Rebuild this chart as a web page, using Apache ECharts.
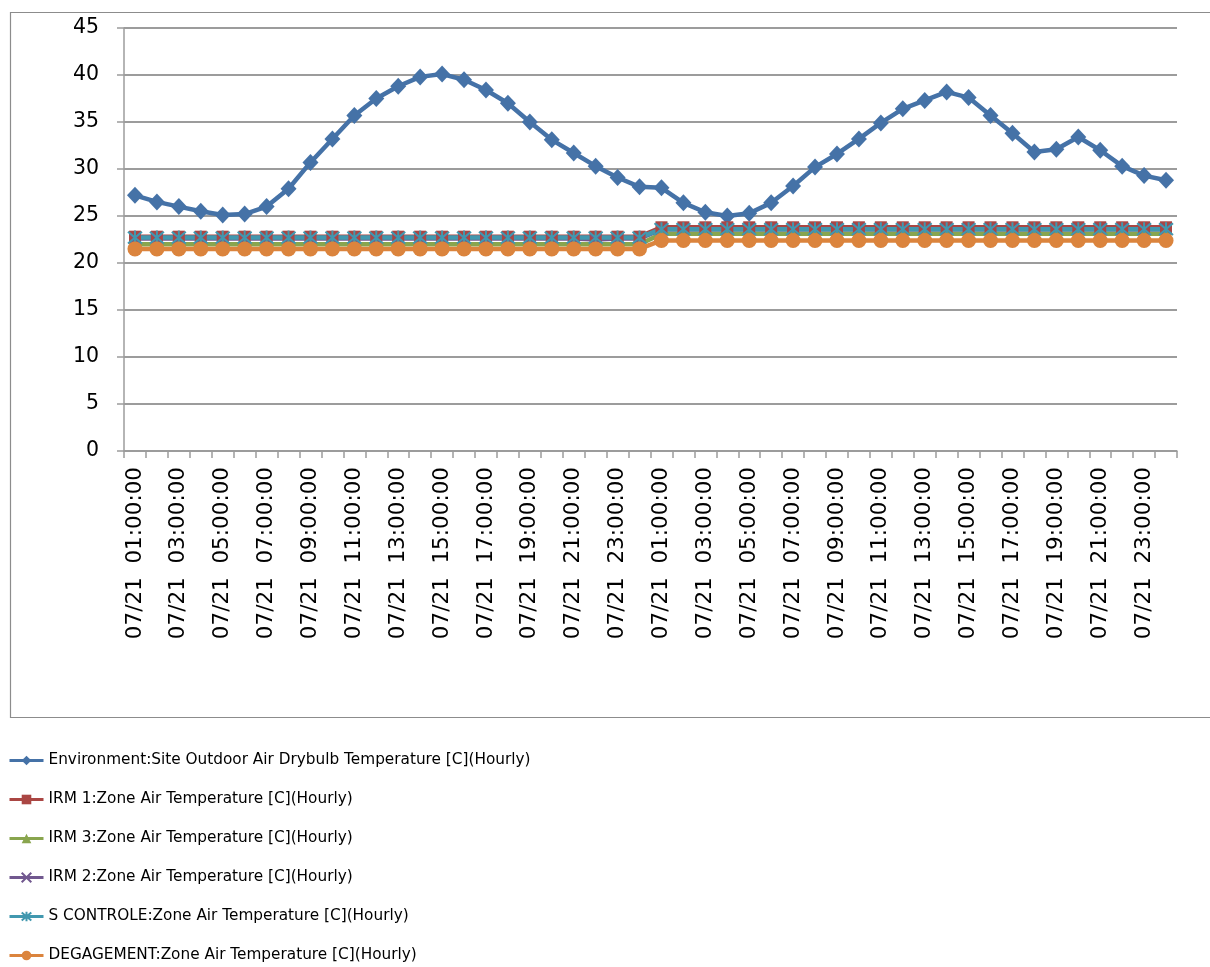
<!DOCTYPE html>
<html>
<head>
<meta charset="utf-8">
<title>Zone Air Temperatures</title>
<script src="https://cdn.jsdelivr.net/npm/echarts@6/dist/echarts.min.js"></script>
<style>
  html, body { margin: 0; padding: 0; background: #ffffff; }
  #chart { width: 1210px; height: 967px; }
</style>
</head>
<body>
<div id="chart"></div>
<script>
// Hourly time stamps: two consecutive simulated days, both labelled 07/21
const hours = [];
for (let d = 0; d < 2; d++) {
  for (let h = 1; h <= 24; h++) {
    hours.push('07/21  ' + String(h).padStart(2, '0') + ':00:00');
  }
}

const outdoorTemp = [
  27.2, 26.5, 26.0, 25.5, 25.1, 25.2, 26.0, 27.9, 30.7, 33.2, 35.7, 37.5,
  38.8, 39.8, 40.1, 39.5, 38.4, 37.0, 35.0, 33.1, 31.7, 30.3, 29.1, 28.1,
  28.0, 26.4, 25.4, 25.0, 25.3, 26.4, 28.2, 30.2, 31.6, 33.2, 34.9, 36.4,
  37.3, 38.2, 37.6, 35.7, 33.8, 31.8, 32.1, 33.4, 32.0, 30.3, 29.3, 28.8
];

const irm1Temp = [
  22.8, 22.8, 22.8, 22.8, 22.8, 22.8, 22.8, 22.8, 22.8, 22.8, 22.8, 22.8,
  22.8, 22.8, 22.8, 22.8, 22.8, 22.8, 22.8, 22.8, 22.8, 22.8, 22.8, 22.8,
  23.8, 23.8, 23.8, 23.8, 23.8, 23.8, 23.8, 23.8, 23.8, 23.8, 23.8, 23.8,
  23.8, 23.8, 23.8, 23.8, 23.8, 23.8, 23.8, 23.8, 23.8, 23.8, 23.8, 23.8
];

const irm3Temp = [
  22.0, 22.0, 22.0, 22.0, 22.0, 22.0, 22.0, 22.0, 22.0, 22.0, 22.0, 22.0,
  22.0, 22.0, 22.0, 22.0, 22.0, 22.0, 22.0, 22.0, 22.0, 22.0, 22.0, 22.0,
  23.1, 23.1, 23.1, 23.1, 23.1, 23.1, 23.1, 23.1, 23.1, 23.1, 23.1, 23.1,
  23.1, 23.1, 23.1, 23.1, 23.1, 23.1, 23.1, 23.1, 23.1, 23.1, 23.1, 23.1
];

const irm2Temp = [
  22.6, 22.6, 22.6, 22.6, 22.6, 22.6, 22.6, 22.6, 22.6, 22.6, 22.6, 22.6,
  22.6, 22.6, 22.6, 22.6, 22.6, 22.6, 22.6, 22.6, 22.6, 22.5, 22.6, 22.6,
  23.6, 23.6, 23.6, 23.6, 23.6, 23.6, 23.6, 23.6, 23.6, 23.6, 23.6, 23.6,
  23.6, 23.6, 23.6, 23.6, 23.6, 23.6, 23.6, 23.6, 23.6, 23.6, 23.6, 23.6
];

const sControleTemp = [
  22.7, 22.7, 22.7, 22.7, 22.7, 22.7, 22.7, 22.7, 22.7, 22.7, 22.7, 22.7,
  22.7, 22.7, 22.7, 22.7, 22.7, 22.7, 22.7, 22.7, 22.7, 22.7, 22.7, 22.7,
  23.6, 23.6, 23.6, 23.6, 23.6, 23.6, 23.6, 23.6, 23.6, 23.6, 23.6, 23.6,
  23.6, 23.6, 23.6, 23.6, 23.6, 23.6, 23.6, 23.6, 23.6, 23.6, 23.6, 23.6
];

const degagementTemp = [
  21.5, 21.5, 21.5, 21.5, 21.5, 21.5, 21.5, 21.5, 21.5, 21.5, 21.5, 21.5,
  21.5, 21.5, 21.5, 21.5, 21.5, 21.5, 21.5, 21.5, 21.5, 21.5, 21.5, 21.5,
  22.4, 22.4, 22.4, 22.4, 22.4, 22.4, 22.4, 22.4, 22.4, 22.4, 22.4, 22.4,
  22.4, 22.4, 22.4, 22.4, 22.4, 22.4, 22.4, 22.4, 22.4, 22.4, 22.4, 22.4
];

const seriesNames = [
  'Environment:Site Outdoor Air Drybulb Temperature [C](Hourly)',
  'IRM 1:Zone Air Temperature [C](Hourly)',
  'IRM 3:Zone Air Temperature [C](Hourly)',
  'IRM 2:Zone Air Temperature [C](Hourly)',
  'S CONTROLE:Zone Air Temperature [C](Hourly)',
  'DEGAGEMENT:Zone Air Temperature [C](Hourly)'
];

const yTicks = { min: 0, max: 45, interval: 5 };

const FONT = 'DejaVu Sans';
const GRID_GRAY = '#9c9c9c';

// Stroked marker outlines (cross and asterisk)
const CROSS = 'path://M0,0 L10,10 M10,0 L0,10';
const STAR = 'path://M0,0 L10,10 M10,0 L0,10 M5,-1 L5,11';

function lineSeries(name, data, color, symbol, size, stroked) {
  return {
    name: name,
    type: 'line',
    data: data,
    symbol: symbol,
    symbolSize: size,
    showAllSymbol: true,
    lineStyle: { color: color, width: 4.5 },
    itemStyle: stroked
      ? { color: 'rgba(0,0,0,0)', borderColor: color, borderWidth: 2 }
      : { color: color, borderWidth: 0 },
    emphasis: { disabled: true }
  };
}

const chart = echarts.init(document.getElementById('chart'), null, { renderer: 'canvas' });

chart.setOption({
  animation: false,
  backgroundColor: '#ffffff',
  textStyle: { fontFamily: FONT },
  graphic: [{
    type: 'rect',
    shape: { x: 10.5, y: 12.5, width: 1205, height: 705 },
    style: { fill: 'none', stroke: '#8c8c8c', lineWidth: 1.2 },
    silent: true,
    z: -10
  }],
  grid: { left: 124, right: 33, top: 28, bottom: 516, containLabel: false },
  legend: {
    orient: 'vertical',
    left: 8,
    top: 753,
    height: 215,
    padding: 0,
    itemWidth: 34,
    itemHeight: 12,
    itemGap: 24,
    lineStyle: { width: 3 },
    textStyle: { fontFamily: FONT, fontSize: 15.3, color: '#000000' },
    data: seriesNames
  },
  xAxis: {
    type: 'category',
    data: hours,
    boundaryGap: true,
    axisLine: { show: true, lineStyle: { color: GRID_GRAY, width: 1.5 } },
    axisTick: { show: true, interval: 0, length: 7, lineStyle: { color: GRID_GRAY, width: 1.5 } },
    axisLabel: {
      interval: 1,
      rotate: 90,
      margin: 16,
      color: '#000000',
      fontFamily: FONT,
      fontSize: 21.5
    },
    splitLine: { show: false }
  },
  yAxis: {
    type: 'value',
    min: yTicks.min,
    max: yTicks.max,
    interval: yTicks.interval,
    axisLine: { show: true, lineStyle: { color: GRID_GRAY, width: 1.5 } },
    axisTick: { show: true, length: 7, lineStyle: { color: GRID_GRAY, width: 1.5 } },
    axisLabel: { margin: 25, color: '#000000', fontFamily: FONT, fontSize: 20.5 },
    splitLine: { show: true, lineStyle: { color: GRID_GRAY, width: 1.8 } }
  },
  series: [
    lineSeries(seriesNames[0], outdoorTemp, '#4572a7', 'diamond', [16, 17], false),
    lineSeries(seriesNames[1], irm1Temp, '#aa4643', 'rect', 12, false),
    lineSeries(seriesNames[2], irm3Temp, '#89a54e', 'triangle', 12, false),
    lineSeries(seriesNames[3], irm2Temp, '#71588f', CROSS, 11, true),
    lineSeries(seriesNames[4], sControleTemp, '#4198af', STAR, 14, true),
    lineSeries(seriesNames[5], degagementTemp, '#db843d', 'circle', 15, false)
  ]
});
</script>
</body>
</html>
